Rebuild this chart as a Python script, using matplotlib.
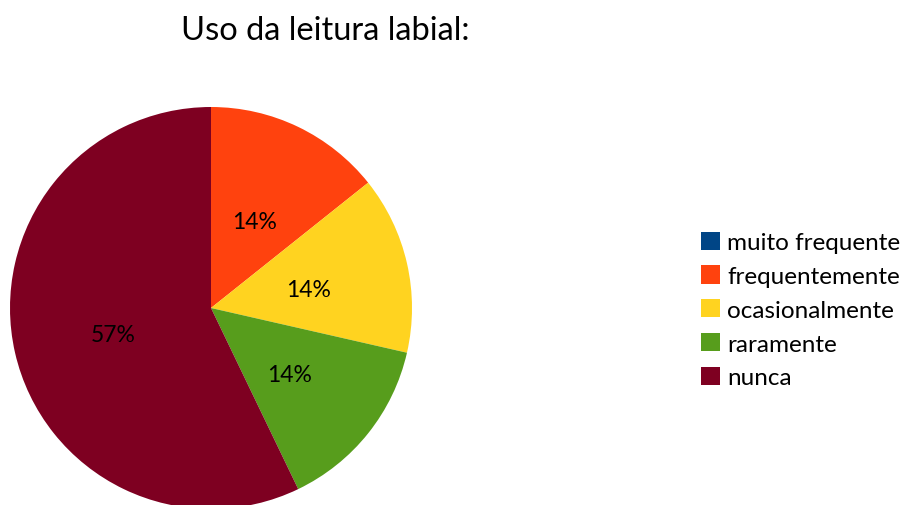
import matplotlib.pyplot as plt
import matplotlib.transforms as mtransforms
from matplotlib.patches import Patch

plt.rcParams['font.family'] = ['Lato', 'DejaVu Sans']

categories = ["muito frequente", "frequentemente", "ocasionalmente", "raramente", "nunca"]
values = [0, 1, 1, 1, 4]
colors = ["#004586", "#ff420e", "#ffd320", "#579d1c", "#7e0021"]
title = "Uso da leitura labial:"

W, H = 906, 506
fig = plt.figure(figsize=(W / 100, H / 100), dpi=100)

# pie centre (211, 309) px, radius 201 px
cx, cy, r = 211, 309, 201
ax = fig.add_axes([(cx - r) / W, (H - cy - r) / H, 2 * r / W, 2 * r / H])


def pct(p):
    return "" if p < 0.5 else f"{p:.0f}%"


wedges, texts, autotexts = ax.pie(values, colors=colors, startangle=90, counterclock=False,
                                  autopct=pct, pctdistance=0.5, radius=1,
                                  textprops={"fontsize": 16.5, "color": "black"})
# nudge the percent labels down a little
for t in autotexts:
    t.set_transform(mtransforms.offset_copy(t.get_transform(), fig=fig, x=0, y=-4, units="dots"))

ax.set_xlim(-1, 1)
ax.set_ylim(-1, 1)
ax.set_aspect("equal")
ax.axis("off")

fig.text(325 / W, 1 - 31 / H, title, ha="center", va="center", fontsize=23.5)

handles = [Patch(facecolor=c, edgecolor="none") for c in colors]
fig.legend(handles, categories, loc="center left",
           bbox_to_anchor=(701 / W, 1 - 311 / H), frameon=False,
           fontsize=17.5, handlelength=0.78, handleheight=0.78,
           handletextpad=0.3, labelspacing=0.5, borderpad=0, borderaxespad=0)

fig.savefig("out.png", dpi=100)
